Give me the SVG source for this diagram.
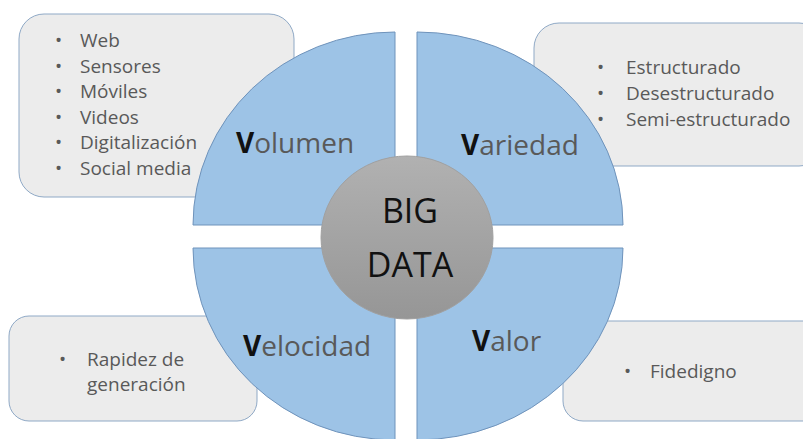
<svg xmlns="http://www.w3.org/2000/svg" width="803" height="439" viewBox="0 0 803 439">
<defs>
<linearGradient id="gray" x1="0" y1="0" x2="0" y2="1">
<stop offset="0" stop-color="#b1b1b1"/>
<stop offset="1" stop-color="#969696"/>
</linearGradient>
<style>
.box{fill:#ececec;stroke:#8fa9c6;stroke-width:1}
.quad{fill:#9dc3e6;stroke:#6f93bb;stroke-width:1}
.lst{font-family:"Open Sans","Noto Sans",sans-serif;font-size:19px;fill:#595959}
.lbl{font-family:"Open Sans","Noto Sans",sans-serif;font-size:28px;fill:#595959}
.v{font-weight:bold;fill:#111}
.big{font-family:"Open Sans","Noto Sans",sans-serif;font-size:34px;fill:#111;text-anchor:middle}
</style>
</defs>
<rect width="803" height="439" fill="#ffffff"/>
<g id="box-volumen">
<rect class="box" x="19" y="14" width="275" height="183" rx="25"/>
<g class="lst">
<text x="55" y="47">•</text><text x="80" y="47">Web</text>
<text x="55" y="72.5">•</text><text x="80" y="72.5">Sensores</text>
<text x="55" y="98">•</text><text x="80" y="98">Móviles</text>
<text x="55" y="123.5">•</text><text x="80" y="123.5">Videos</text>
<text x="55" y="149">•</text><text x="80" y="149">Digitalización</text>
<text x="55" y="174.5">•</text><text x="80" y="174.5">Social media</text>
</g>
</g>
<g id="box-variedad">
<rect class="box" x="534" y="23" width="290" height="143" rx="25"/>
<g class="lst">
<text x="597" y="74">•</text><text x="626" y="74">Estructurado</text>
<text x="597" y="100">•</text><text x="626" y="100">Desestructurado</text>
<text x="597" y="126">•</text><text x="626" y="126">Semi-estructurado</text>
</g>
</g>
<g id="box-velocidad">
<rect class="box" x="9" y="316" width="248" height="105" rx="20"/>
<g class="lst">
<text x="59" y="366">•</text><text x="87" y="366">Rapidez de</text>
<text x="87" y="391">generación</text>
</g>
</g>
<g id="box-valor">
<rect class="box" x="563" y="321" width="260" height="100" rx="20"/>
<g class="lst">
<text x="624" y="378">•</text><text x="650" y="378">Fidedigno</text>
</g>
</g>
<g id="q-volumen">
<path class="quad" d="M395,225 L193,225 A202,193 0 0 1 395,32 Z"/>
<text class="lbl" x="236" y="153"><tspan class="v">V</tspan>olumen</text>
</g>
<g id="q-variedad">
<path class="quad" d="M417,225 L417,32 A206,193 0 0 1 623,225 Z"/>
<text class="lbl" x="461" y="155"><tspan class="v">V</tspan>ariedad</text>
</g>
<g id="q-velocidad">
<path class="quad" d="M395,248 L193,248 A202,192 0 0 0 395,440 Z"/>
<text class="lbl" x="243" y="356"><tspan class="v">V</tspan>elocidad</text>
</g>
<g id="q-valor">
<path class="quad" d="M417,248 L623,248 A206,192 0 0 1 417,440 Z"/>
<text class="lbl" x="472" y="351"><tspan class="v">V</tspan>alor</text>
</g>
<g id="center">
<ellipse cx="407" cy="237.5" rx="86" ry="81.5" fill="url(#gray)" stroke="#a0a0a0" stroke-width="1"/>
<text class="big" x="410" y="223">BIG</text>
<text class="big" x="410" y="277">DATA</text>
</g>
<g id="connectors"></g>
</svg>
